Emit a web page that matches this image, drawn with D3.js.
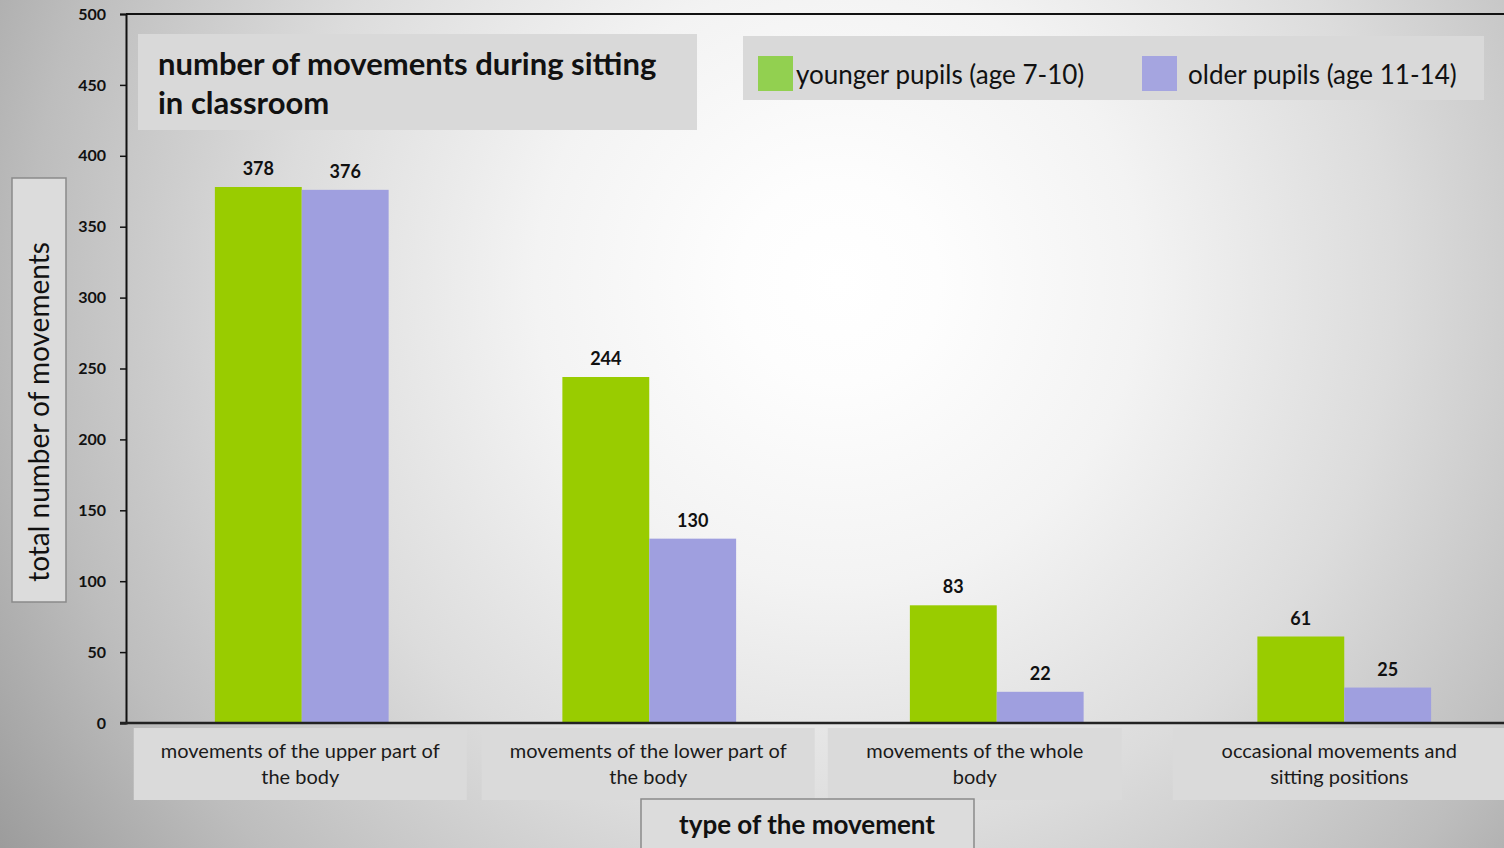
<!DOCTYPE html>
<html>
<head>
<meta charset="utf-8">
<script src="https://cdn.jsdelivr.net/npm/d3@7"></script>
<style>
  html, body { margin: 0; padding: 0; overflow: hidden; }
  svg { display: block; font-family: Lato, "Open Sans", sans-serif; }
</style>
</head>
<body>
<div id="canvas"></div>
<script>
const categories = [
    ["movements of the upper part of", "the body"],
    ["movements of the lower part of", "the body"],
    ["movements of the whole", "body"],
    ["occasional movements and", "sitting positions"]
];
const younger = [378, 244, 83, 61];
const older = [376, 130, 22, 25];
const seriesNames = ["younger pupils (age 7-10)", "older pupils (age 11-14)"];
const yTicks = [0, 50, 100, 150, 200, 250, 300, 350, 400, 450, 500];

const width = 1504;
const height = 848;
const colors = ["#99cc00", "#9f9fdf"];

const svg = d3.select("#canvas").append("svg")
    .attr("width", width)
    .attr("height", height);

// radial background
const defs = svg.append("defs");
const grad = defs.append("radialGradient")
    .attr("id", "bg")
    .attr("gradientUnits", "userSpaceOnUse")
    .attr("cx", 838).attr("cy", 282).attr("r", 1010);
[[0, "#ffffff"], [0.1, "#fdfdfd"], [0.3, "#f3f3f3"], [0.55, "#dcdcdc"],
 [0.8, "#bdbdbd"], [1, "#9c9c9c"]].forEach(s => {
    grad.append("stop").attr("offset", s[0]).attr("stop-color", s[1]);
});
svg.append("rect").attr("width", width).attr("height", height).attr("fill", "url(#bg)");

const x = d3.scaleBand()
    .domain(d3.range(categories.length))
    .range([128, 1518])
    .paddingInner(0.5)
    .paddingOuter(0.25);

const xs = d3.scaleBand()
    .domain([0, 1])
    .range([0, x.bandwidth()]);

const y = d3.scaleLinear()
    .domain([0, 500])
    .range([723, 14]);

// top frame line
svg.append("line")
    .attr("x1", 126).attr("x2", width)
    .attr("y1", y(500)).attr("y2", y(500))
    .attr("stroke", "#111").attr("stroke-width", 2);

// bars
const rows = categories.map((c, i) => [younger[i], older[i]]);
const groups = svg.append("g").selectAll("g")
    .data(rows)
    .join("g")
    .attr("transform", (d, i) => `translate(${x(i)},0)`);

groups.selectAll("rect")
    .data(d => d)
    .join("rect")
    .attr("x", (d, j) => xs(j))
    .attr("width", xs.bandwidth())
    .attr("y", d => y(d))
    .attr("height", d => y(0) - y(d))
    .attr("fill", (d, j) => colors[j]);

groups.selectAll("text")
    .data(d => d)
    .join("text")
    .attr("x", (d, j) => xs(j) + xs.bandwidth() / 2)
    .attr("y", d => y(d) - 12)
    .attr("text-anchor", "middle")
    .attr("font-size", 18)
    .attr("font-weight", "bold")
    .attr("fill", "#111")
    .text(d => d);

// y axis
const yAxis = svg.append("g")
    .attr("transform", "translate(126,0)")
    .call(d3.axisLeft(y).tickValues(yTicks).tickSize(6).tickPadding(14));
yAxis.select(".domain").attr("stroke", "#111").attr("stroke-width", 2);
yAxis.selectAll(".tick line").attr("stroke", "#111").attr("stroke-width", 1.5);
yAxis.selectAll(".tick text")
    .attr("font-size", 16)
    .attr("font-weight", "bold")
    .attr("font-family", "Lato, sans-serif")
    .attr("fill", "#111");

// x axis baseline
svg.append("line")
    .attr("x1", 120).attr("x2", width)
    .attr("y1", y(0)).attr("y2", y(0))
    .attr("stroke", "#222").attr("stroke-width", 2.5);

// category label boxes
const boxW = [333, 333, 294, 333];
const boxShift = [-1.5, -1, -22, -5];
const catG = svg.append("g").selectAll("g")
    .data(categories)
    .join("g")
    .attr("transform", (d, i) => `translate(${x(i) + x.bandwidth() / 2 + boxShift[i]},0)`);
catG.append("rect")
    .attr("x", (d, i) => -boxW[i] / 2)
    .attr("y", 728)
    .attr("width", (d, i) => boxW[i])
    .attr("height", 72)
    .attr("fill", "#dadada");
catG.append("text")
    .attr("text-anchor", "middle")
    .attr("font-size", 20)
    .attr("fill", "#1a1a1a")
    .selectAll("tspan")
    .data(d => d)
    .join("tspan")
    .attr("x", 0)
    .attr("y", (d, k) => 758 + k * 26)
    .text(d => d);

// title
svg.append("rect")
    .attr("x", 138).attr("y", 34).attr("width", 559).attr("height", 96)
    .attr("fill", "#d9d9d9");
svg.append("text")
    .attr("font-size", 31)
    .attr("font-weight", "bold")
    .attr("fill", "#111")
    .selectAll("tspan")
    .data(["number of movements during sitting", "in classroom"])
    .join("tspan")
    .attr("x", 158)
    .attr("y", (d, k) => 75 + k * 39)
    .text(d => d);

// legend
svg.append("rect")
    .attr("x", 743).attr("y", 36).attr("width", 741).attr("height", 64)
    .attr("fill", "#d9d9d9");
const legX = [758, 1142];
const leg = svg.append("g").selectAll("g")
    .data(seriesNames)
    .join("g")
    .attr("transform", (d, i) => `translate(${legX[i]},56)`);
leg.append("rect")
    .attr("width", 35).attr("height", 35)
    .attr("fill", (d, i) => i === 0 ? "#92d050" : "#a5a5e0");
leg.append("text")
    .attr("x", (d, i) => i === 0 ? 38 : 46)
    .attr("y", 28)
    .attr("font-size", 26)
    .attr("fill", "#111")
    .text(d => d);

// y axis title
svg.append("rect")
    .attr("x", 12).attr("y", 178).attr("width", 54).attr("height", 424)
    .attr("fill", "#dcdcdc").attr("stroke", "#8a8a8a").attr("stroke-width", 1.5);
svg.append("text")
    .attr("transform", "translate(49,412) rotate(-90)")
    .attr("text-anchor", "middle")
    .attr("font-size", 28)
    .attr("fill", "#111")
    .text("total number of movements");

// x axis title
svg.append("rect")
    .attr("x", 641).attr("y", 799).attr("width", 333).attr("height", 60)
    .attr("fill", "#dcdcdc").attr("stroke", "#8a8a8a").attr("stroke-width", 1.5);
svg.append("text")
    .attr("x", 807).attr("y", 834)
    .attr("text-anchor", "middle")
    .attr("font-size", 26)
    .attr("font-weight", "bold")
    .attr("fill", "#111")
    .text("type of the movement");
</script>
</body>
</html>
